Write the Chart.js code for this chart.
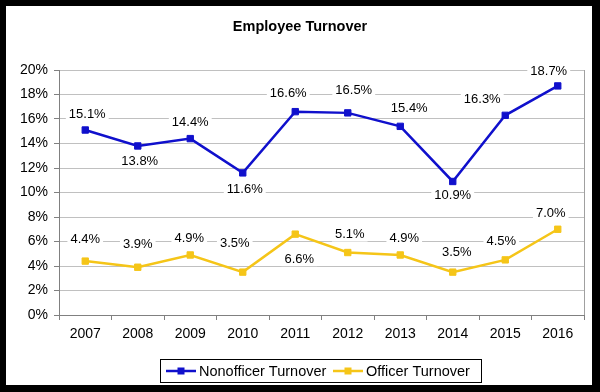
<!DOCTYPE html>
<html>
<head>
<meta charset="utf-8">
<script src="https://cdn.jsdelivr.net/npm/chart.js@4.4.0/dist/chart.umd.min.js"></script>
<style>
  html, body { margin: 0; padding: 0; background: #000; }
  #wrap { position: absolute; left: 0; top: 0; width: 600px; height: 392px; }
</style>
</head>
<body>
<div id="wrap"><canvas id="c" width="600" height="392"></canvas></div>
<script>
// ---- data ----
const categories = ['2007','2008','2009','2010','2011','2012','2013','2014','2015','2016'];
const nonofficerTurnover = [15.1, 13.8, 14.4, 11.6, 16.6, 16.5, 15.4, 10.9, 16.3, 18.7];
const officerTurnover = [4.4, 3.9, 4.9, 3.5, 6.6, 5.1, 4.9, 3.5, 4.5, 7.0];
const yTickValues = [0, 2, 4, 6, 8, 10, 12, 14, 16, 18, 20];
const seriesNames = ['Nonofficer Turnover', 'Officer Turnover'];
const chartTitle = 'Employee Turnover';

// label nudges (pixels relative to the point), style only
const nonofficerLabelNudge = [[2,-17],[2,14],[0,-17],[2,16],[-7,-19],[6,-23],[9,-19],[0,13],[-23,-17],[-9,-16]];
const officerLabelNudge = [[0,-23],[0,-24],[-1,-18],[-8,-30],[4,24],[2,-19],[4,-18],[4,-21],[-4,-19],[-7,-17]];

const BLUE = '#1010cc';
const YELLOW = '#f5c518';
const FONT = '"Liberation Sans", Arial, sans-serif';

const framePlugin = {
  id: 'frame',
  beforeDraw(chart) {
    const ctx = chart.ctx;
    ctx.save();
    ctx.fillStyle = '#000';
    ctx.fillRect(0, 0, chart.width, chart.height);
    ctx.fillStyle = '#fff';
    ctx.fillRect(6, 6, 586, 379);
    // title
    ctx.fillStyle = '#000';
    ctx.font = 'bold 14.5px ' + FONT;
    ctx.textAlign = 'center';
    ctx.textBaseline = 'middle';
    ctx.fillText(chartTitle, 300, 27);
    ctx.restore();
  },
  afterDraw(chart) {
    const ctx = chart.ctx;
    const area = chart.chartArea;
    ctx.save();
    // right border of plot area
    ctx.strokeStyle = '#a0a0a0';
    ctx.lineWidth = 1;
    ctx.beginPath();
    ctx.moveTo(Math.round(area.right) + 0.5, area.top);
    ctx.lineTo(Math.round(area.right) + 0.5, area.bottom);
    ctx.stroke();
    // legend
    const bx = 160.5, by = 359.5, bw = 321, bh = 23;
    ctx.fillStyle = '#fff';
    ctx.fillRect(bx, by, bw, bh);
    ctx.strokeStyle = '#000';
    ctx.lineWidth = 1;
    ctx.strokeRect(bx, by, bw, bh);
    const items = [
      { x: 166, color: BLUE, text: seriesNames[0] },
      { x: 333, color: YELLOW, text: seriesNames[1] }
    ];
    const cy = 371;
    ctx.font = '14.5px ' + FONT;
    ctx.textAlign = 'left';
    ctx.textBaseline = 'middle';
    items.forEach(it => {
      ctx.strokeStyle = it.color;
      ctx.lineWidth = 2.5;
      ctx.beginPath();
      ctx.moveTo(it.x, cy);
      ctx.lineTo(it.x + 30, cy);
      ctx.stroke();
      ctx.fillStyle = it.color;
      ctx.fillRect(it.x + 11.5, cy - 3.5, 7, 7);
      ctx.fillStyle = '#000';
      ctx.fillText(it.text, it.x + 33, cy + 1);
    });
    ctx.restore();
  }
};

const labelPlugin = {
  id: 'pointLabels',
  afterDatasetsDraw(chart) {
    const ctx = chart.ctx;
    const nudges = [nonofficerLabelNudge, officerLabelNudge];
    ctx.save();
    ctx.font = '13px ' + FONT;
    ctx.textAlign = 'center';
    ctx.textBaseline = 'middle';
    chart.data.datasets.forEach((ds, di) => {
      const meta = chart.getDatasetMeta(di);
      meta.data.forEach((pt, i) => {
        const txt = ds.data[i].toFixed(1) + '%';
        const [dx, dy] = nudges[di][i];
        const x = pt.x + dx, y = pt.y + dy;
        const w = ctx.measureText(txt).width;
        ctx.fillStyle = '#fff';
        ctx.fillRect(x - w / 2 - 3, y - 8, w + 6, 16);
        ctx.fillStyle = '#000';
        ctx.fillText(txt, x, y + 1);
      });
    });
    ctx.restore();
  }
};

new Chart(document.getElementById('c'), {
  type: 'line',
  data: {
    labels: categories,
    datasets: [
      {
        label: seriesNames[0],
        data: nonofficerTurnover,
        borderColor: BLUE,
        backgroundColor: BLUE,
        borderWidth: 2.5,
        pointStyle: 'rect',
        pointRadius: 4.5,
        pointBorderWidth: 1,
        tension: 0
      },
      {
        label: seriesNames[1],
        data: officerTurnover,
        borderColor: YELLOW,
        backgroundColor: YELLOW,
        borderWidth: 2.5,
        pointStyle: 'rect',
        pointRadius: 4.5,
        pointBorderWidth: 1,
        tension: 0
      }
    ]
  },
  options: {
    responsive: false,
    animation: false,
    devicePixelRatio: 1,
    layout: { padding: { left: 0, right: 16, top: 70, bottom: 0 } },
    plugins: {
      legend: { display: false },
      title: { display: false },
      tooltip: { enabled: false }
    },
    scales: {
      x: {
        offset: true,
        grid: {
          offset: true,
          drawOnChartArea: false,
          drawTicks: true,
          tickLength: 5,
          color: '#808080'
        },
        border: { color: '#808080', width: 1 },
        ticks: {
          color: '#000',
          font: { family: FONT, size: 14 },
          padding: 6,
          maxRotation: 0
        },
        afterFit(scale) { scale.height = 77; }
      },
      y: {
        min: 0,
        max: 20,
        afterBuildTicks(scale) { scale.ticks = yTickValues.map(v => ({ value: v })); },
        grid: {
          color: '#c0c0c0',
          tickLength: 5,
          tickColor: '#808080'
        },
        border: { color: '#808080', width: 1 },
        ticks: {
          color: '#000',
          font: { family: FONT, size: 14 },
          padding: 6,
          callback: v => v + '%'
        },
        afterFit(scale) { scale.width = 59; }
      }
    }
  },
  plugins: [framePlugin, labelPlugin]
});
</script>
</body>
</html>
